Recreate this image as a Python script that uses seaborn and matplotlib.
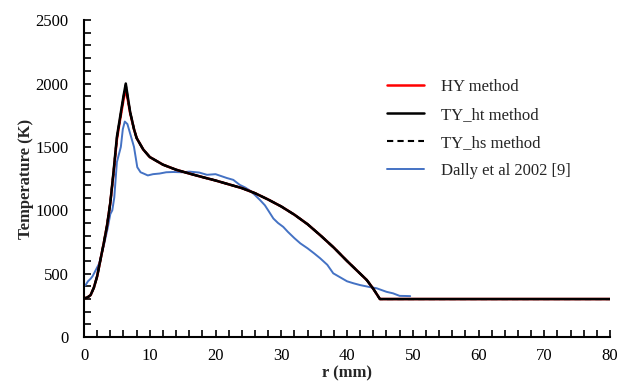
import numpy as np
import pandas as pd
import matplotlib
matplotlib.use("Agg")
import matplotlib.pyplot as plt
import seaborn as sns
from matplotlib.ticker import MultipleLocator

# ---- data ----
r_model = [0, 0.5, 1, 1.5, 2, 2.5, 3, 3.5, 4, 4.5, 5, 5.5, 6, 6.35, 6.7, 7, 7.6, 8, 9, 10,
           12, 14, 16, 18, 20, 22, 24, 26, 28, 30, 32, 34, 36, 38, 40, 42, 43, 44, 45, 80]
T_hy = [305, 312, 331, 390, 480, 610, 740, 880, 1060, 1300, 1560, 1720, 1870, 1960, 1860, 1770, 1640, 1570, 1480, 1420,
        1360, 1320, 1290, 1262, 1235, 1205, 1175, 1135, 1085, 1030, 965, 890, 800, 705, 600, 500, 450, 380, 300, 300]
T_ty_ht = [305, 312, 331, 390, 480, 610, 740, 880, 1060, 1310, 1580, 1740, 1900, 2000, 1880, 1780, 1640, 1570, 1480, 1420,
           1360, 1320, 1290, 1262, 1235, 1205, 1175, 1135, 1085, 1030, 965, 890, 800, 705, 600, 500, 450, 380, 300, 300]
T_ty_hs = [305, 312, 331, 390, 480, 610, 740, 880, 1060, 1305, 1570, 1730, 1890, 1990, 1870, 1775, 1640, 1570, 1480, 1420,
           1360, 1320, 1290, 1262, 1235, 1205, 1175, 1135, 1085, 1030, 965, 890, 800, 705, 600, 500, 450, 380, 300, 300]

r_exp = [0, 0.3, 0.6, 1.0, 1.3, 1.6, 2.0, 2.3, 2.6, 3.0, 3.3, 3.6, 4.0, 4.3, 4.6, 5.0, 5.3, 5.6, 5.9, 6.2, 6.6,
         7.1, 7.6, 8.1, 8.6, 9.1, 9.7, 10.5, 11.5, 12.5, 13.6, 15, 16, 17.5, 18.7, 20, 21.7, 22.7, 23.7,
         24.5, 25.2, 26, 26.8, 27.5, 28, 28.8, 29.5, 30.3, 31, 32, 32.9, 34, 35, 35.9, 37, 37.9, 39,
         40, 41, 42, 43.5, 44.5, 46, 47, 48, 49, 49.6]
T_exp = [400, 415, 440, 460, 480, 510, 550, 580, 640, 720, 790, 860, 970, 1000, 1100, 1380, 1440, 1500, 1640, 1700, 1680,
         1590, 1500, 1340, 1300, 1289, 1275, 1285, 1290, 1300, 1302, 1300, 1305, 1298, 1280, 1285, 1255, 1240, 1200,
         1180, 1157, 1120, 1079, 1040, 1000, 935, 900, 869, 830, 780, 739, 700, 660, 622, 570, 503, 470,
         440, 424, 410, 394, 385, 357, 345, 325, 324, 323]

labels = ["HY method", "TY_ht method", "TY_hs method", "Dally et al 2002 [9]"]

sns.set_theme(style="white")
plt.rcParams['font.family'] = ['Liberation Serif', 'DejaVu Serif']

fig = plt.figure(figsize=(6.27, 3.87), dpi=100)
ax = fig.add_axes([0.134, 0.129, 0.839, 0.819])

df_hy = pd.DataFrame({"r": r_model, "T": T_hy})
df_ht = pd.DataFrame({"r": r_model, "T": T_ty_ht})
df_hs = pd.DataFrame({"r": r_model, "T": T_ty_hs})
df_ex = pd.DataFrame({"r": r_exp, "T": T_exp})

sns.lineplot(data=df_hy, x="r", y="T", ax=ax, color="#FF0000", lw=1.8, label=labels[0], zorder=2)
sns.lineplot(data=df_ht, x="r", y="T", ax=ax, color="black", lw=1.8, label=labels[1], zorder=3)
sns.lineplot(data=df_hs, x="r", y="T", ax=ax, color="black", lw=1.5, ls=(0, (3, 2)), label=labels[2], zorder=4)
sns.lineplot(data=df_ex, x="r", y="T", ax=ax, color="#4472C4", lw=1.4, label=labels[3], zorder=1)

ax.set_xlim(0, 80)
ax.set_ylim(0, 2500)
ax.xaxis.set_major_locator(MultipleLocator(10))
ax.xaxis.set_minor_locator(MultipleLocator(2))
ax.yaxis.set_major_locator(MultipleLocator(500))
ax.yaxis.set_minor_locator(MultipleLocator(100))
ax.tick_params(axis="both", which="both", direction="in", length=5, width=1.2,
               labelsize=12, colors="black")
ax.tick_params(axis="x", which="both", pad=8)
ax.tick_params(axis="y", which="both", pad=11)
ax.tick_params(axis="both", which="both", bottom=True, left=True, top=False, right=False)
for s in ["top", "right"]:
    ax.spines[s].set_visible(False)
for s in ["left", "bottom"]:
    ax.spines[s].set_color("black")
    ax.spines[s].set_linewidth(1.5)

ax.set_xlabel("r (mm)", fontsize=12, fontweight="bold", labelpad=1)
ax.set_ylabel("Temperature (K)", fontsize=12, fontweight="bold", labelpad=1)

leg = ax.legend(loc="upper left", bbox_to_anchor=(0.548, 0.862), frameon=False, fontsize=12,
                handlelength=2.2, handletextpad=1.0, labelspacing=0.72)

fig.savefig("out.png", dpi=100)
